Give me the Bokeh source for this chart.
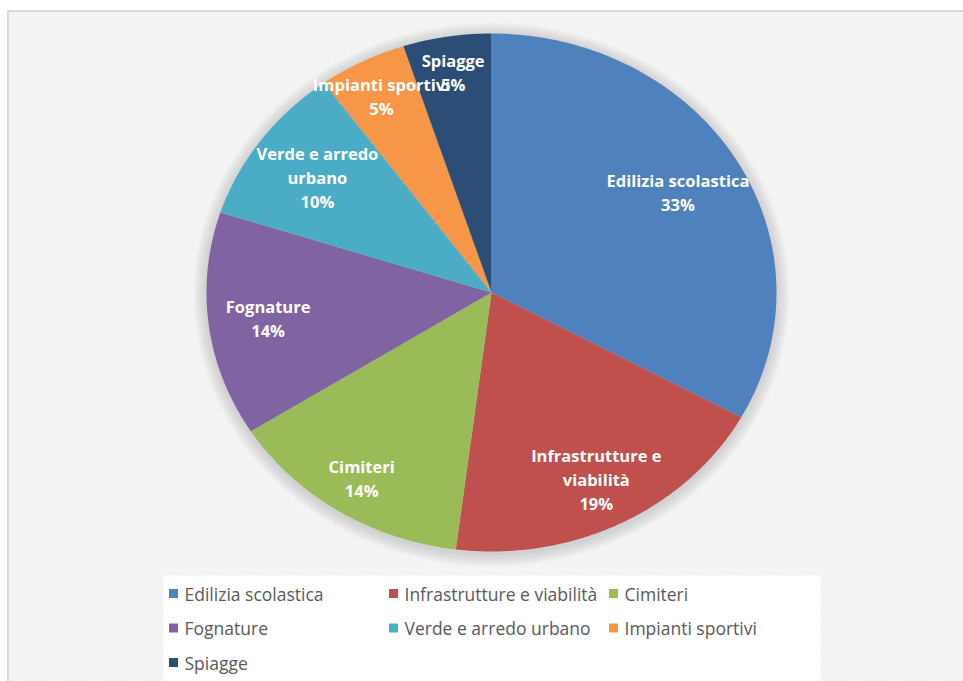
import numpy as np
from bokeh.plotting import figure
from bokeh.models import Range1d, ColumnDataSource
from bokeh.core.properties import value
from bokeh.embed import file_html
from bokeh.resources import INLINE

# ---- data ----
categories = ["Edilizia scolastica", "Infrastrutture e viabilità", "Cimiteri",
              "Fognature", "Verde e arredo urbano", "Impianti sportivi", "Spiagge"]
values = [33, 19, 14, 14, 10, 5, 5]
colors = ["#4F81BD", "#C0504D", "#9BBB59", "#8064A2", "#4BACC6", "#F79646", "#2C4D75"]
pie_labels = ["Edilizia scolastica", "Infrastrutture e\nviabilità", "Cimiteri",
              "Fognature", "Verde e arredo\nurbano", "Impianti sportivi", "Spiagge"]
# label distance from centre, as a fraction of the radius (Excel "best fit" look)
label_radius = [0.76, 0.81, 0.85, 0.79, 0.755, 0.85, 0.86]

# ---- layout (pixels) ----
W, H = 963, 681
CX, CY = 491, 292
RX, RY = 285, 259

p = figure(width=W, height=H, x_range=Range1d(0, W), y_range=Range1d(H, 0),
           output_backend="svg", toolbar_location=None, min_border=0)
p.axis.visible = False
p.grid.visible = False
p.outline_line_color = None
p.background_fill_color = "white"
p.border_fill_color = "white"

# chart area frame with light diagonal texture
p.quad(left=7.5, right=1200, top=10.5, bottom=1200, fill_color="#fcfcfc",
       hatch_pattern="left_diagonal_line", hatch_color="#efefef",
       hatch_scale=5, hatch_weight=1.5, line_color="#d9d9d9", line_width=2)

# soft shadow around the pie
for k in range(10, 0, -1):
    p.ellipse(x=CX, y=CY + 2, width=2 * RX + 2 * k * 1.3, height=2 * RY + 2 * k * 1.3,
              fill_color="#808080", fill_alpha=0.035, line_color=None)

# pie slices
vals = np.array(values, dtype=float)
frac = vals / vals.sum()
ends = np.cumsum(frac) * 2 * np.pi
starts = ends - frac * 2 * np.pi
xs, ys, lx, ly, texts = [], [], [], [], []
for s, e, v, lab, f in zip(starts, ends, values, pie_labels, label_radius):
    t = np.linspace(s, e, 120)
    xs.append(list(np.concatenate([[CX], CX + RX * np.sin(t)])))
    ys.append(list(np.concatenate([[CY], CY - RY * np.cos(t)])))
    m = (s + e) / 2
    lx.append(CX + f * RX * np.sin(m))
    ly.append(CY - f * RY * np.cos(m))
    texts.append(f"{lab}\n{v}%")

src = ColumnDataSource(dict(xs=xs, ys=ys, color=colors, name=categories))
p.patches("xs", "ys", source=src, fill_color="color", line_color=None)

p.text(x=lx, y=ly, text=texts, text_color="white", text_font=value("Open Sans"),
       text_font_style="bold", text_font_size="16.5px", text_align="center",
       text_baseline="middle", text_line_height=1.05)

# legend box
p.quad(left=163, right=820, top=575, bottom=1200, fill_color="white", line_color=None)

ncol = 3
mx, tx, my = [], [], []
for i, c in enumerate(categories):
    r, col = divmod(i, ncol)
    mx.append(173 + col * 220)
    tx.append(184 + col * 220)
    my.append(593 + r * 34.5)
p.rect(x=mx, y=my, width=9, height=9, fill_color=colors, line_color=None)
p.text(x=tx, y=my, text=categories, text_color="#595959", text_font=value("Open Sans"),
       text_font_size="17.5px", text_align="left", text_baseline="middle")

open("out.html", "w").write(file_html(p, INLINE))
